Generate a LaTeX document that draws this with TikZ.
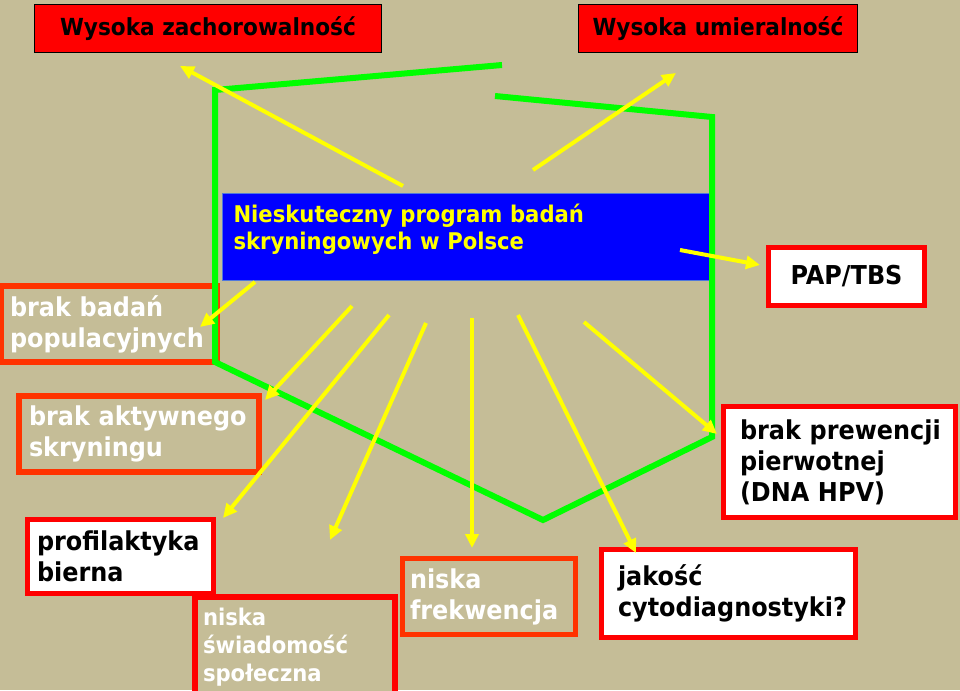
\documentclass[tikz,border=0pt]{standalone}
\usepackage{fontspec}
\setmainfont{DejaVu Sans}[FakeStretch=0.92]
\usetikzlibrary{arrows.meta,calc}
\definecolor{bgtan}{RGB}{197,189,151}
\definecolor{causeorange}{RGB}{255,51,0}
\definecolor{framegreen}{RGB}{0,255,0}
\definecolor{arrowyellow}{RGB}{255,255,0}
\definecolor{progblue}{RGB}{0,0,255}
\definecolor{progedge}{RGB}{80,120,220}
\newcommand{\causefont}{\bfseries\fontsize{26}{31}\selectfont}
\newcommand{\headfont}{\bfseries\fontsize{23.5}{28}\selectfont}
\newcommand{\progfont}{\bfseries\fontsize{23}{27}\selectfont}
\hyphenpenalty=10000
\tikzset{
  outcome/.style={draw=black,line width=1pt,fill=red,text=black,font=\headfont},
  progbox/.style={draw=progedge,line width=1pt,fill=progblue,text=arrowyellow,align=left,font=\progfont},
  cause/.style={draw=causeorange,line width=6pt,fill=bgtan,text=white,align=left,font=\causefont},
  fact/.style={draw=red,line width=5pt,fill=white,text=black,align=left,font=\causefont},
  link/.style={arrowyellow,line width=4pt,-{Triangle[length=14pt,width=13pt]}},
  frame/.style={framegreen,line width=6pt}
}
\begin{document}
\begin{tikzpicture}[x=1pt,y=-1pt]
  \useasboundingbox (0,0) rectangle (960,690);
  \fill[bgtan] (0,0) rectangle (960,690);
  % outcomes
  \node[outcome,minimum width=347pt,minimum height=48pt] (zach) at (208,28.5) {Wysoka zachorowalność};
  \node[outcome,minimum width=279pt,minimum height=48pt] (umier) at (718,28.5) {Wysoka umieralność};
  % programme
  \node[progbox,minimum width=491pt,minimum height=87pt,inner xsep=11pt,text width=469pt] (prog) at (468,237)
    {Nieskuteczny program badań\\skryningowych w Polsce\rule[-19.5pt]{0pt}{0pt}};
  % causes
  \node[cause,minimum width=216pt,minimum height=76pt,inner xsep=9pt,text width=198pt] (badan) at (109,324) {brak~badań\\populacyjnych};
  \node[cause,minimum width=240pt,minimum height=76pt,inner xsep=10pt,text width=220pt] (aktyw) at (139,434) {brak~aktywnego\\skryningu};
  \node[fact,minimum width=186pt,minimum height=74pt,inner xsep=9.5pt,text width=167pt] (profil) at (120.5,556.5) {profilaktyka\\bierna};
  \node[cause,draw=red,font=\bfseries\fontsize{23}{28}\selectfont,minimum width=200pt,minimum height=100pt,inner xsep=8pt,text width=184pt] (swiad) at (295,647) {niska\\świadomość\\społeczna};
  \node[cause,line width=5pt,minimum width=173pt,minimum height=76pt,inner xsep=7.5pt,text width=158pt] (frekw) at (489,596.5) {niska\\frekwencja};
  \node[fact,minimum width=254pt,minimum height=88pt,inner xsep=16.5pt,text width=221pt] (jakosc) at (728.5,593.5) {jakość\\cytodiagnostyki?};
  \node[fact,align=center,minimum width=156pt,minimum height=58pt] (pap) at (846.5,276.5) {PAP/TBS};
  \node[fact,minimum width=232pt,minimum height=111pt,inner xsep=16.5pt,text width=199pt] (prew) at (839.5,462) {brak~prewencji\\pierwotnej\\(DNA~HPV)};
  % green frame
  \draw[frame] (502,65) -- (215,90) -- (215,362) -- (543,520) -- (712,437) -- (712,117) -- (495,96);
  % arrow ends
  \coordinate (s1) at ($(prog.north west)+(181,-7)$);
  \coordinate (s2) at ($(prog.north west)+(311,-23)$);
  \coordinate (s3) at ($(prog.north west)+(458,57)$);
  \coordinate (s4) at ($(prog.south west)+(33,1)$);
  \coordinate (s5) at ($(prog.south west)+(130,25)$);
  \coordinate (s6) at ($(prog.south west)+(167,34)$);
  \coordinate (s7) at ($(prog.south west)+(204,42)$);
  \coordinate (s8) at ($(prog.south west)+(250,37)$);
  \coordinate (s9) at ($(prog.south west)+(296,34)$);
  \coordinate (s10) at ($(prog.south west)+(362,41)$);
  \coordinate (t1) at ($(zach.south west)+(146,13)$);
  \coordinate (t2) at ($(umier.south west)+(98,20)$);
  \coordinate (t3) at ($(pap.west)+(-6,-11.5)$);
  \coordinate (t4) at ($(badan.north east)+(-20,44)$);
  \coordinate (t5) at ($(aktyw.north east)+(3,7)$);
  \coordinate (t6) at ($(profil.north east)+(7,1)$);
  \coordinate (t7) at ($(swiad.north west)+(138,-54)$);
  \coordinate (t8) at ($(frekw.north west)+(72,-8)$);
  \coordinate (t9) at ($(jakosc.north west)+(37,6)$);
  \coordinate (t10) at ($(prew.west)+(-4,-28)$);
  \foreach \s/\t in {s1/t1,s2/t2,s3/t3,s4/t4,s5/t5,s6/t6,s7/t7,s8/t8,s9/t9,s10/t10}
    \draw[link] (\s) -- (\t);
\end{tikzpicture}
\end{document}
